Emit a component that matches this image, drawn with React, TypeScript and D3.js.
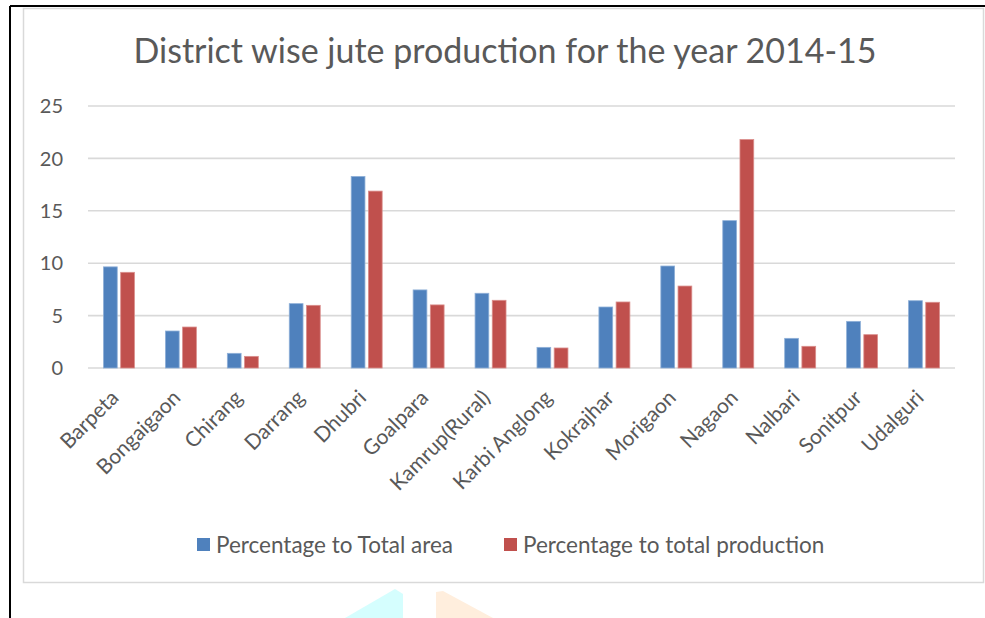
import React, { useEffect, useRef } from "react";
import * as d3 from "d3";

const districts = [
  "Barpeta", "Bongaigaon", "Chirang", "Darrang", "Dhubri", "Goalpara",
  "Kamrup(Rural)", "Karbi Anglong", "Kokrajhar", "Morigaon", "Nagaon",
  "Nalbari", "Sonitpur", "Udalguri",
];
const areaPct = [9.65, 3.53, 1.4, 6.14, 18.28, 7.45, 7.13, 1.97, 5.82, 9.73, 14.06, 2.83, 4.45, 6.42];
const productionPct = [9.13, 3.91, 1.11, 5.98, 16.88, 6.02, 6.46, 1.91, 6.3, 7.82, 21.8, 2.07, 3.18, 6.27];
const seriesNames = ["Percentage to Total area", "Percentage to total production"];
const yTicks = [0, 5, 10, 15, 20, 25];
const title = "District wise jute production for the year 2014-15";

const W = 985, H = 618;
const FONT = "Lato, 'Open Sans', sans-serif";
const TEXT = "#595959";
const COLORS = ["#4F81BD", "#C0504D"];
const STROKES = ["#8FB0D8", "#DA8E8C"];

export default function App() {
  const ref = useRef<SVGSVGElement>(null);

  useEffect(() => {
    const svg = d3.select(ref.current);
    svg.selectAll("*").remove();

    svg.append("rect").attr("width", W).attr("height", H).attr("fill", "#fff");

    // watermark shapes
    svg.append("polygon").attr("points", "345,618 395,589 403,594 403,618").attr("fill", "#D5FEFE");
    svg.append("polygon").attr("points", "436,618 436,592 443,591 493,618").attr("fill", "#FFEEDD");

    // page lines
    svg.append("line").attr("x1", 10).attr("x2", 10).attr("y1", 6).attr("y2", H)
      .attr("stroke", "#000").attr("stroke-width", 2);
    svg.append("line").attr("x1", 10).attr("x2", W).attr("y1", 6).attr("y2", 6)
      .attr("stroke", "#000").attr("stroke-width", 2);

    // chart box
    svg.append("rect").attr("x", 23.5).attr("y", 8.5).attr("width", 960).attr("height", 574)
      .attr("fill", "#fff").attr("stroke", "#D9D9D9").attr("stroke-width", 1.5);

    const left = 88, right = 955, top = 106, bottom = 368;
    const x0 = d3.scaleBand<string>().domain(districts).range([left, right]).paddingInner(0.5).paddingOuter(0.25);
    const x1 = d3.scaleBand<number>().domain([0, 1]).range([0, x0.bandwidth()]).paddingInner(0.2);
    const y = d3.scaleLinear().domain([0, 25]).range([bottom, top]);

    const g = svg.append("g");
    g.selectAll("line.grid").data(yTicks).join("line")
      .attr("x1", left).attr("x2", right)
      .attr("y1", (d) => y(d)).attr("y2", (d) => y(d))
      .attr("stroke", "#D9D9D9").attr("stroke-width", 1.6);

    g.selectAll("text.ytick").data(yTicks).join("text")
      .attr("x", 63).attr("y", (d) => y(d))
      .attr("dy", "0.36em")
      .attr("text-anchor", "end")
      .attr("font-family", FONT).attr("font-size", 20).attr("fill", TEXT)
      .text((d) => String(d));

    const series = [areaPct, productionPct];
    series.forEach((vals, si) => {
      g.selectAll(`rect.s${si}`).data(vals).join("rect")
        .attr("x", (_d, i) => (x0(districts[i]) as number) + (x1(si) as number))
        .attr("width", x1.bandwidth())
        .attr("y", (d) => y(d))
        .attr("height", (d) => y(0) - y(d))
        .attr("fill", COLORS[si])
        .attr("stroke", STROKES[si]).attr("stroke-width", 0.8);
    });

    g.selectAll("text.xlab").data(districts).join("text")
      .attr("transform", (d) => `translate(${(x0(d) as number) + x0.bandwidth() / 2 + 1},${399}) rotate(-45)`)
      .attr("text-anchor", "end")
      .attr("font-family", FONT).attr("font-size", 21).attr("fill", TEXT)
      .text((d) => d);

    svg.append("text").attr("x", 505).attr("y", 63).attr("text-anchor", "middle")
      .attr("font-family", FONT).attr("font-size", 34).attr("fill", TEXT)
      .text(title);

    const legX = [197, 504];
    seriesNames.forEach((name, i) => {
      svg.append("rect").attr("x", legX[i]).attr("y", 538).attr("width", 13).attr("height", 13)
        .attr("fill", COLORS[i]);
      svg.append("text").attr("x", legX[i] + 19).attr("y", 552.5)
        .attr("font-family", FONT).attr("font-size", 22.5).attr("fill", TEXT)
        .text(name);
    });
  }, []);

  return (
    <svg ref={ref} width={W} height={H} style={{ position: "absolute", left: 0, top: 0, display: "block" }} />
  );
}
